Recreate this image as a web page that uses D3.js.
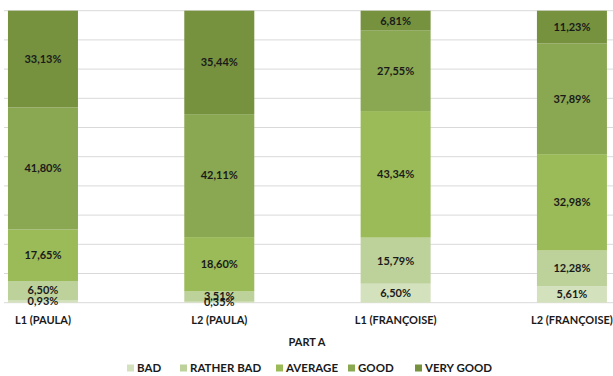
<!DOCTYPE html>
<html>
<head>
<meta charset="utf-8">
<script src="https://cdn.jsdelivr.net/npm/d3@7"></script>
<style>
  html, body { margin: 0; padding: 0; background: #fff; }
  svg { display: block; }
  text { font-family: Lato, "Open Sans", sans-serif; font-weight: 700; fill: #1a1a1a; }
</style>
</head>
<body>
<svg id="chart" width="613" height="376"></svg>
<script>
// Categories along the x axis
const categories = ["L1 (PAULA)", "L2 (PAULA)", "L1 (FRANÇOISE)", "L2 (FRANÇOISE)"];
// Rating levels, bottom to top
const levels = ["BAD", "RATHER BAD", "AVERAGE", "GOOD", "VERY GOOD"];
// Percentages per rating level, one value per category
const bad       = [0.93, 0.35, 6.50, 5.61];
const ratherBad = [6.50, 3.51, 15.79, 12.28];
const average   = [17.65, 18.60, 43.34, 32.98];
const good      = [41.80, 42.11, 27.55, 37.89];
const veryGood  = [33.13, 35.44, 6.81, 11.23];
const gridTicks = [0, 10, 20, 30, 40, 50, 60, 70, 80, 90, 100];
const axisTitle = "PART A";
const colors = ["#d4e1bd", "#bdd19b", "#9bbb59", "#8aa752", "#77923f"];

const seriesValues = [bad, ratherBad, average, good, veryGood];
const rows = categories.map((c, i) => {
  const r = { category: c };
  levels.forEach((l, k) => r[l] = seriesValues[k][i]);
  return r;
});

const svg = d3.select("#chart");

const y = d3.scaleLinear().domain([0, 100]).range([302.7, 10.7]);
const x = d3.scaleBand().domain(categories)
  .range([-45.2, 660.1]).paddingInner(0.603).paddingOuter(0.3015);
const color = d3.scaleOrdinal().domain(levels).range(colors);

// Horizontal gridlines
svg.append("g").selectAll("line").data(gridTicks).join("line")
  .attr("x1", 4).attr("x2", 613)
  .attr("y1", d => y(d)).attr("y2", d => y(d))
  .attr("stroke", "#d9d9d9").attr("stroke-width", 1);

const stacked = d3.stack().keys(levels)(rows);
const fmt = v => v.toFixed(2).replace(".", ",") + "%";

const layers = svg.append("g").selectAll("g").data(stacked).join("g")
  .attr("fill", d => color(d.key));

layers.selectAll("rect").data(d => d).join("rect")
  .attr("x", d => x(d.data.category))
  .attr("width", x.bandwidth())
  .attr("y", d => y(d[1]))
  .attr("height", d => y(d[0]) - y(d[1]));

// Value labels centered in each segment
const labels = svg.append("g");
stacked.forEach(layer => {
  layer.forEach(d => {
    labels.append("text")
      .attr("x", x(d.data.category) + x.bandwidth() / 2)
      .attr("y", y((d[0] + d[1]) / 2))
      .attr("dy", "0.35em")
      .attr("text-anchor", "middle")
      .attr("font-size", 11)
      .text(fmt(d[1] - d[0]));
  });
});

// Category axis labels
const xAxis = d3.axisBottom(x).tickSize(0).tickPadding(0);
const gx = svg.append("g").attr("transform", `translate(0, ${y(0)})`).call(xAxis);
gx.select(".domain").remove();
gx.selectAll("text")
  .attr("y", 21.5).attr("dy", "0")
  .attr("font-size", 11)
  .style("font-family", "Lato, 'Open Sans', sans-serif")
  .style("font-weight", 700)
  .attr("fill", "#1a1a1a");

// Axis title
svg.append("text").attr("x", 307).attr("y", 346)
  .attr("text-anchor", "middle").attr("font-size", 11).text(axisTitle);

// Legend
const legendX = [127, 180, 276, 348, 415];
const legend = svg.append("g").selectAll("g").data(levels).join("g")
  .attr("transform", (d, i) => `translate(${legendX[i]}, 368)`);
legend.append("rect").attr("x", 0).attr("y", -3.5).attr("width", 7).attr("height", 7)
  .attr("fill", d => color(d));
legend.append("text").attr("x", 10).attr("dy", "0.35em")
  .attr("font-size", 11.5).text(d => d);
</script>
</body>
</html>
